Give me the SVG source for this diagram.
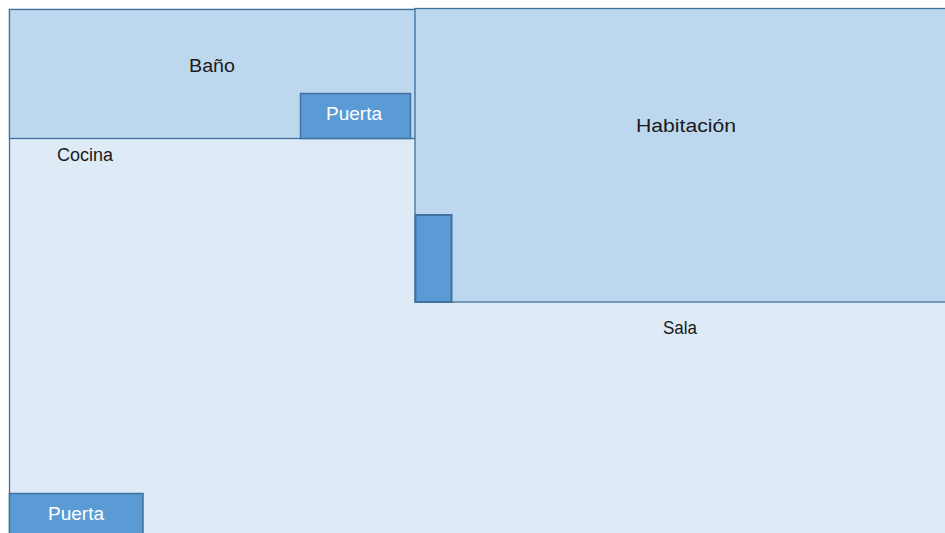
<svg xmlns="http://www.w3.org/2000/svg" width="945" height="533" viewBox="0 0 945 533">
<style>
.room{stroke:#41719C;stroke-width:1.3}
.light{fill:#DEEBF7}
.mid{fill:#BDD7EE}
.door{fill:#5B9BD5;stroke:#41719C;stroke-width:1.5}
text{font-family:"Liberation Sans",Arial,sans-serif;font-size:18px;fill:#1a1a1a;text-anchor:middle}
text.w{fill:#ffffff}
</style>
<rect width="945" height="533" fill="#ffffff"/>
<g id="sala">
<rect class="room light" x="9.5" y="9.5" width="945" height="535"/>
<text x="680" y="334" textLength="34" lengthAdjust="spacingAndGlyphs">Sala</text>
</g>
<g id="cocina">
<text x="85" y="161" textLength="56" lengthAdjust="spacingAndGlyphs">Cocina</text>
</g>
<g id="bano">
<rect class="room mid" x="9.5" y="9.5" width="406" height="129"/>
<text x="212" y="72" textLength="46" lengthAdjust="spacingAndGlyphs">Baño</text>
</g>
<g id="puerta-bano">
<rect class="door" x="300.5" y="93.5" width="110" height="45"/>
<text class="w" x="354" y="120" textLength="56" lengthAdjust="spacingAndGlyphs">Puerta</text>
</g>
<g id="habitacion">
<rect class="room mid" x="415" y="8.5" width="540" height="293.5"/>
<text x="686" y="132" textLength="100" lengthAdjust="spacingAndGlyphs">Habitación</text>
</g>
<g id="puerta-habitacion">
<rect class="door" x="415.5" y="215" width="36" height="87" style="stroke-width:2"/>
</g>
<g id="puerta-entrada">
<rect class="door" x="9.5" y="493.5" width="133.5" height="45"/>
<text class="w" x="76" y="520" textLength="56" lengthAdjust="spacingAndGlyphs">Puerta</text>
</g>
<g id="connectors"></g>
</svg>
